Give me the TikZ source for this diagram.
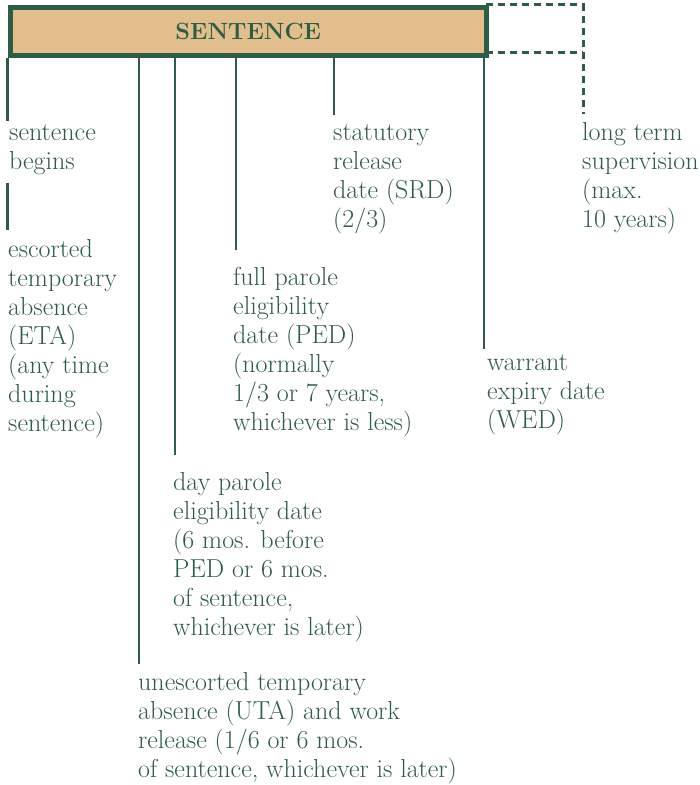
\documentclass[tikz,border=0pt]{standalone}
\usepackage{fontspec}
\definecolor{dkgreen}{HTML}{2E5C46}
\definecolor{tan}{HTML}{E2BE8C}
\begin{document}
\begin{tikzpicture}[x=1pt,y=-1pt,
  lbl/.style={anchor=north west,inner sep=0pt,align=left,text=dkgreen,
    font=\fontsize{26}{29}\selectfont,yshift=20.3pt},
  tick/.style={draw=dkgreen,line width=2.5pt},
  dashln/.style={draw=dkgreen,line width=3pt,dash pattern=on 7pt off 5pt}]
\useasboundingbox (0,0) rectangle (700,785);
% main box
\node[draw=dkgreen,fill=tan,line width=5pt,minimum width=476.5pt,minimum height=48pt,
  inner sep=0pt,anchor=north west,text=dkgreen,
  font=\fontsize{23.5}{26}\selectfont\bfseries] (box) at (7.5,4.5) {SENTENCE};
% dashed extension
\coordinate (dtl) at (486,4.5);
\coordinate (dtr) at (583,4.5);
\coordinate (dbl) at (486,52.5);
\coordinate (dbr) at (583,52.5);
\coordinate (dend) at (583,114);
\draw[dashln] (dtl) -- (dtr) -- (dend);
\draw[dashln] (dbl) -- (dbr);
% tick ends
\coordinate (t1) at (7.5,121);
\coordinate (t1a) at (7.5,183);
\coordinate (t1b) at (7.5,230);
\coordinate (t2) at (139,664);
\coordinate (t3) at (175,455);
\coordinate (t4) at (236,250);
\coordinate (t5) at (334,115);
\coordinate (t6) at (484,349);
\draw[tick] (box.south west) -- (t1);
\draw[tick] (t1a) -- (t1b);
\draw[tick] (box.south -| t2) -- (t2);
\draw[tick] (box.south -| t3) -- (t3);
\draw[tick] (box.south -| t4) -- (t4);
\draw[tick] (box.south -| t5) -- (t5);
\draw[tick] (box.south -| t6) -- (t6);
% labels (positions are first baselines)
\node[lbl] (begins) at (9,140) {\strut sentence\\begins};
\node[lbl] (eta) at (8,257) {\strut escorted\\temporary\\absence\\(ETA)\\(any time\\during\\sentence)};
\node[lbl] (srd) at (333,140) {\strut statutory\\release\\date (SRD)\\(2/3)};
\node[lbl] (lts) at (582,140) {\strut long term\\supervision\\(max.\\10 years)};
\node[lbl] (ped) at (233,285) {\strut full parole\\eligibility\\date (PED)\\(normally\\1/3 or 7 years,\\whichever is less)};
\node[lbl] (wed) at (487,370) {\strut warrant\\expiry date\\(WED)};
\node[lbl] (day) at (173,490) {\strut day parole\\eligibility date\\(6 mos. before\\PED or 6 mos.\\of sentence,\\whichever is later)};
\node[lbl] (uta) at (138,690) {\strut unescorted temporary\\absence (UTA) and work\\release (1/6 or 6 mos.\\of sentence, whichever is later)};
\end{tikzpicture}
\end{document}
